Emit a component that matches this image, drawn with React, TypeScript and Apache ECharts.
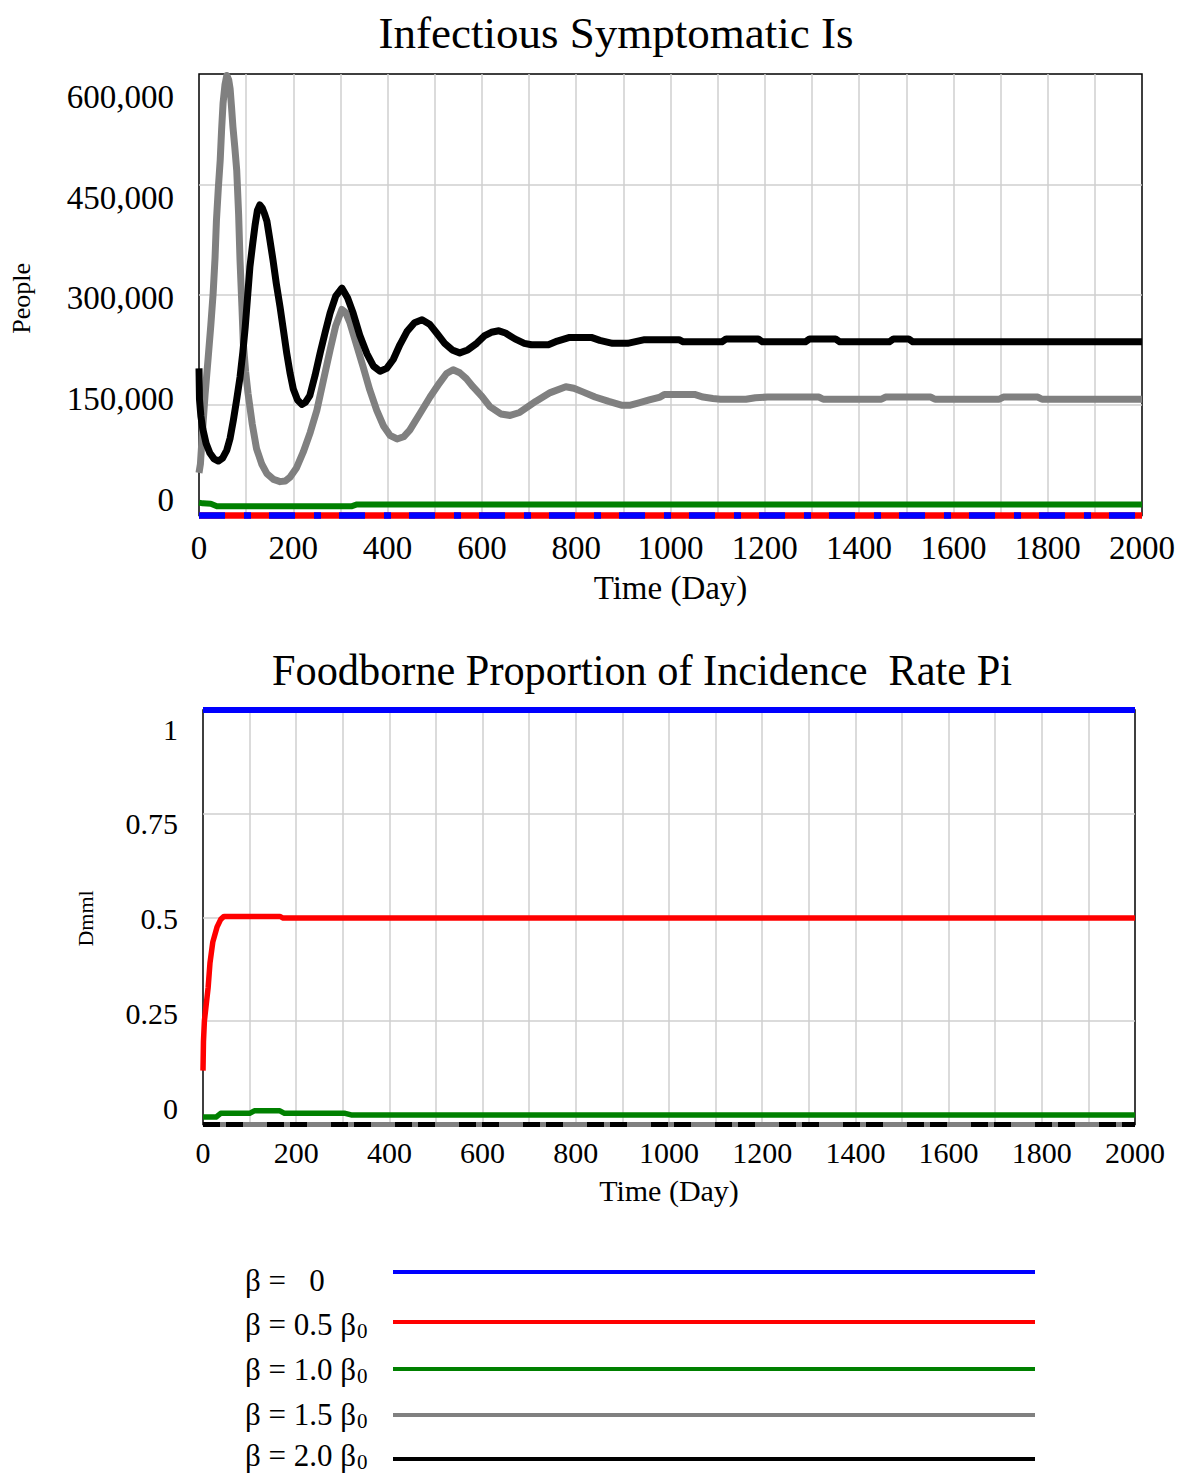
import React, { useEffect, useRef } from "react";
import * as echarts from "echarts";

const SERIF = "'Liberation Serif', 'Times New Roman', serif";

const BLUE = "#0000ff";
const RED = "#ff0000";
const GREEN = "#008000";
const GRAY = "#808080";
const BLACK = "#000000";
const GRID_LINE = "#cfcfcf";

// Infectious Symptomatic Is (People) — [day, value]
const isBeta0: [number, number][] = [[0, 0], [2000, 0]];
const isBeta05: [number, number][] = [[0, 0], [2000, 0]];
const isBeta10: [number, number][] = [
  [0, 17500], [8, 16500], [25, 16000], [38, 12500], [323, 12500], [335, 15000], [2000, 15000],
];
const isBeta15: [number, number][] = [
  [0, 58000], [3, 70000], [8, 120000], [13, 165000], [19, 211000], [25, 258000], [30, 302000],
  [34, 350000], [37, 401000], [41, 445000], [45, 483000], [48, 525000], [51, 560000], [55, 585000],
  [59, 598000], [63, 592000], [66, 580000], [69, 555000], [72, 528000], [76, 500000], [80, 469000],
  [84, 410000], [87, 347000], [91, 285000], [94, 234000], [99, 195000], [104, 166000], [113, 124000],
  [122, 91000], [133, 70000], [144, 57000], [158, 49000], [172, 46000], [183, 47000], [193, 52000],
  [207, 65000], [221, 86000], [236, 113000], [250, 143000], [264, 184000], [278, 225000], [290, 258000],
  [303, 280000], [311, 276000], [320, 262000], [334, 232000], [348, 202000], [362, 171000], [377, 143000],
  [391, 122000], [405, 109000], [420, 104000], [434, 107000], [447, 116000], [468, 138000], [490, 161000],
  [510, 180000], [525, 193000], [539, 198000], [553, 194000], [567, 186000], [581, 175000], [600, 162000],
  [617, 148000], [640, 138000], [660, 136000], [680, 140000], [714, 155000], [745, 167000], [778, 175000],
  [795, 173000], [814, 168000], [840, 161000], [869, 155000], [896, 150000], [915, 150000], [933, 153000],
  [955, 157000], [978, 161000], [987, 164500], [1051, 164500], [1069, 161000], [1090, 159000],
  [1106, 158000], [1160, 158000], [1180, 160000], [1206, 161000], [1315, 161000], [1324, 158000],
  [1447, 158000], [1456, 161000], [1552, 161000], [1561, 158000], [1697, 158000], [1706, 161000],
  [1779, 161000], [1788, 158000], [2000, 158000],
];
const isBeta20: [number, number][] = [
  [0, 200000], [1, 158000], [4, 135000], [8, 118000], [15, 98000], [23, 85000], [32, 77000], [41, 74000],
  [50, 78000], [59, 89000], [66, 105000], [73, 130000], [80, 158000], [87, 188000], [93, 222000],
  [98, 256000], [103, 297000], [108, 338000], [114, 370000], [119, 395000], [124, 415000], [129, 422000],
  [134, 418000], [139, 410000], [144, 400000], [150, 376000], [157, 347000], [164, 315000], [172, 283000],
  [179, 252000], [186, 221000], [193, 194000], [200, 172000], [209, 157000], [218, 151000], [226, 154000],
  [235, 163000], [246, 190000], [257, 221000], [268, 250000], [278, 275000], [290, 298000], [303, 309000],
  [315, 296000], [327, 275000], [341, 245000], [356, 220000], [370, 203000], [384, 196000], [398, 200000],
  [412, 212000], [426, 232000], [441, 250000], [457, 262000], [473, 266000], [489, 260000], [504, 248000],
  [521, 234000], [537, 225000], [553, 221000], [570, 225000], [589, 234000], [605, 244000], [620, 249000],
  [636, 251000], [650, 248000], [670, 240000], [690, 234000], [705, 232000], [741, 232000], [760, 237000],
  [786, 242000], [832, 242000], [850, 238000], [877, 234000], [909, 234000], [945, 239000], [1018, 239000],
  [1027, 236000], [1109, 236000], [1118, 240000], [1186, 240000], [1195, 236000], [1286, 236000],
  [1295, 240000], [1350, 240000], [1359, 236000], [1464, 236000], [1473, 240000], [1505, 240000],
  [1514, 236000], [2000, 236000],
];

// Foodborne Proportion of Incidence Rate Pi (Dmnl) — [day, value]
const piBeta0: [number, number][] = [[0, 1], [2000, 1]];
const piBeta05: [number, number][] = [
  [0, 0.13], [1, 0.2], [3, 0.25], [7, 0.29], [11, 0.33], [15, 0.39], [21, 0.44], [30, 0.476],
  [38, 0.495], [45, 0.502], [165, 0.502], [172, 0.498], [2000, 0.498],
];
const piBeta10: [number, number][] = [
  [0, 0.018], [28, 0.018], [38, 0.027], [100, 0.027], [110, 0.033], [165, 0.033], [175, 0.027],
  [305, 0.027], [318, 0.023], [2000, 0.023],
];
const piBeta15: [number, number][] = [[0, 0], [2000, 0]];
const piBeta20: [number, number][] = [[0, 0], [2000, 0]];

// Scenario legend
const legendText = ["β =   0", "β = 0.5 β", "β = 1.0 β", "β = 1.5 β", "β = 2.0 β"];
const legendSub = ["", "0", "0", "0", "0"];
const legendColors = [BLUE, RED, GREEN, GRAY, BLACK];

const peopleTicks = [0, 150000, 300000, 450000, 600000];
const dmnlTicks = [0, 0.25, 0.5, 0.75, 1];

const LEGEND_FONT = 31;
const LEGEND_SUB_FONT = 21;

function withCommas(v: number): string {
  return String(Math.round(v)).replace(/\B(?=(\d{3})+(?!\d))/g, ",");
}

// Width of a legend label, so its subscript can be set right after it.
function textWidth(text: string, fontSize: number): number {
  const ctx = document.createElement("canvas").getContext("2d");
  if (!ctx) return text.length * fontSize * 0.45;
  ctx.font = `${fontSize}px ${SERIF}`;
  return ctx.measureText(text).width;
}

function lineSeries(
  name: string,
  data: [number, number][],
  axis: number,
  color: string,
  width: number,
  type: any = "solid",
  z = 2
) {
  return {
    name,
    type: "line",
    xAxisIndex: axis,
    yAxisIndex: axis,
    data,
    showSymbol: false,
    symbol: "none",
    clip: false,
    z,
    lineStyle: { color, width, type, cap: "butt", join: "round" },
    emphasis: { disabled: true },
  };
}

export default function App() {
  const ref = useRef<HTMLDivElement>(null);

  useEffect(() => {
    if (!ref.current) return;
    const chart = echarts.init(ref.current, null, { renderer: "svg" });

    const topX = { left: 199, top: 74, width: 943, height: 441.5 };
    const topLabels = { left: 199, top: 97, width: 943, height: 402.5 };
    const botX = { left: 203, top: 710, width: 932, height: 414.5 };
    const botLabels = { left: 203, top: 729, width: 932, height: 379 };

    const innerGrid = {
      show: true,
      showMinLine: false,
      showMaxLine: false,
      lineStyle: { color: GRID_LINE, width: 1.5 },
    };

    const dayAxis = (gridIndex: number, fontSize: number, margin: number, nameGap: number) => ({
      type: "value",
      gridIndex,
      min: 0,
      max: 2000,
      interval: 100,
      axisLine: { show: false },
      axisTick: { show: false },
      splitLine: innerGrid,
      axisLabel: {
        color: "#000",
        fontFamily: SERIF,
        fontSize,
        margin,
        showMinLabel: true,
        showMaxLabel: true,
        formatter: (v: number) => (v % 200 === 0 ? String(v) : ""),
      },
      name: "Time (Day)",
      nameLocation: "middle",
      nameGap,
      nameTextStyle: { color: "#000", fontFamily: SERIF, fontSize },
    });

    const hiddenX = (gridIndex: number) => ({
      type: "value",
      gridIndex,
      min: 0,
      max: 1,
      show: false,
    });

    const legendRowsText = [1280, 1324, 1369, 1414, 1455];
    const legendRowsLine = [1272, 1322, 1369, 1415, 1459];

    const legendGraphics = legendText.flatMap((label, i) => {
      const items: any[] = [
        {
          type: "text",
          x: 245,
          y: legendRowsText[i],
          style: {
            text: label,
            fill: "#000",
            fontFamily: SERIF,
            fontSize: LEGEND_FONT,
            textAlign: "left",
            textVerticalAlign: "middle",
            verticalAlign: "middle",
          },
        },
        {
          type: "line",
          shape: { x1: 393, y1: legendRowsLine[i], x2: 1035, y2: legendRowsLine[i] },
          style: { stroke: legendColors[i], lineWidth: 4 },
        },
      ];
      if (legendSub[i]) {
        items.push({
          type: "text",
          x: 245 + textWidth(label, LEGEND_FONT) + 1,
          y: legendRowsText[i] + 7,
          style: {
            text: legendSub[i],
            fill: "#000",
            fontFamily: SERIF,
            fontSize: LEGEND_SUB_FONT,
            textAlign: "left",
            textVerticalAlign: "middle",
            verticalAlign: "middle",
          },
        });
      }
      return items;
    });

    const option: any = {
      animation: false,
      backgroundColor: "#ffffff",
      grid: [
        { ...topX, show: true, borderColor: "#000", borderWidth: 1.5, backgroundColor: "transparent", z: 0 },
        { ...topLabels, show: false },
        { ...botX, show: true, borderColor: "#000", borderWidth: 1.5, backgroundColor: "transparent", z: 0 },
        { ...botLabels, show: false },
      ],
      xAxis: [dayAxis(0, 33, 16, 56), hiddenX(1), dayAxis(2, 30, 13, 51), hiddenX(3)],
      yAxis: [
        {
          type: "value",
          gridIndex: 0,
          min: peopleTicks[0],
          max: peopleTicks[peopleTicks.length - 1],
          interval: 150000,
          axisLabel: { show: false },
          axisLine: { show: false },
          axisTick: { show: false },
          splitLine: innerGrid,
        },
        {
          type: "value",
          gridIndex: 1,
          min: peopleTicks[0],
          max: peopleTicks[peopleTicks.length - 1],
          interval: 150000,
          axisLine: { show: false },
          axisTick: { show: false },
          splitLine: { show: false },
          axisLabel: {
            color: "#000",
            fontFamily: SERIF,
            fontSize: 33,
            margin: 26,
            formatter: (v: number) => withCommas(v),
          },
          name: "People",
          nameLocation: "middle",
          nameRotate: 90,
          nameGap: 166,
          nameTextStyle: { color: "#000", fontFamily: SERIF, fontSize: 26 },
        },
        {
          type: "value",
          gridIndex: 2,
          min: dmnlTicks[0],
          max: dmnlTicks[dmnlTicks.length - 1],
          interval: 0.25,
          axisLabel: { show: false },
          axisLine: { show: false },
          axisTick: { show: false },
          splitLine: innerGrid,
        },
        {
          type: "value",
          gridIndex: 3,
          min: dmnlTicks[0],
          max: dmnlTicks[dmnlTicks.length - 1],
          interval: 0.25,
          axisLine: { show: false },
          axisTick: { show: false },
          splitLine: { show: false },
          axisLabel: {
            color: "#000",
            fontFamily: SERIF,
            fontSize: 30,
            margin: 25,
            formatter: (v: number) => String(v),
          },
          name: "Dmml",
          nameLocation: "middle",
          nameRotate: 90,
          nameGap: 107,
          nameTextStyle: { color: "#000", fontFamily: SERIF, fontSize: 22 },
        },
      ],
      series: [
        lineSeries("Is β=0.5β0", isBeta05, 0, RED, 6.5, "solid", 2),
        lineSeries("Is β=0", isBeta0, 0, BLUE, 6.5, [26, 19, 7, 18], 3),
        lineSeries("Is β=1.0β0", isBeta10, 0, GREEN, 6, "solid", 4),
        lineSeries("Is β=1.5β0", isBeta15, 0, GRAY, 7, "solid", 5),
        lineSeries("Is β=2.0β0", isBeta20, 0, BLACK, 7, "solid", 6),
        lineSeries("Pi β=0", piBeta0, 2, BLUE, 6, "solid", 2),
        lineSeries("Pi β=0.5β0", piBeta05, 2, RED, 5.5, "solid", 3),
        lineSeries("Pi β=1.0β0", piBeta10, 2, GREEN, 5.5, "solid", 4),
        lineSeries("Pi β=1.5β0", piBeta15, 2, GRAY, 5, "solid", 5),
        lineSeries("Pi β=2.0β0", piBeta20, 2, BLACK, 5, [17, 6, 17, 24], 6),
      ],
      graphic: [
        {
          type: "text",
          x: 616,
          y: 33,
          style: {
            text: "Infectious Symptomatic Is",
            fill: "#000",
            fontFamily: SERIF,
            fontSize: 45,
            textAlign: "center",
            textVerticalAlign: "middle",
            verticalAlign: "middle",
          },
        },
        {
          type: "text",
          x: 642,
          y: 670,
          scaleX: 0.94,
          style: {
            text: "Foodborne Proportion of Incidence  Rate Pi",
            fill: "#000",
            fontFamily: SERIF,
            fontSize: 45,
            textAlign: "center",
            textVerticalAlign: "middle",
            verticalAlign: "middle",
          },
        },
        ...legendGraphics,
      ],
    };

    chart.setOption(option);
    return () => chart.dispose();
  }, []);

  return (
    <div
      ref={ref}
      style={{ position: "absolute", left: 0, top: 0, width: 1181, height: 1473, background: "#fff" }}
    />
  );
}
